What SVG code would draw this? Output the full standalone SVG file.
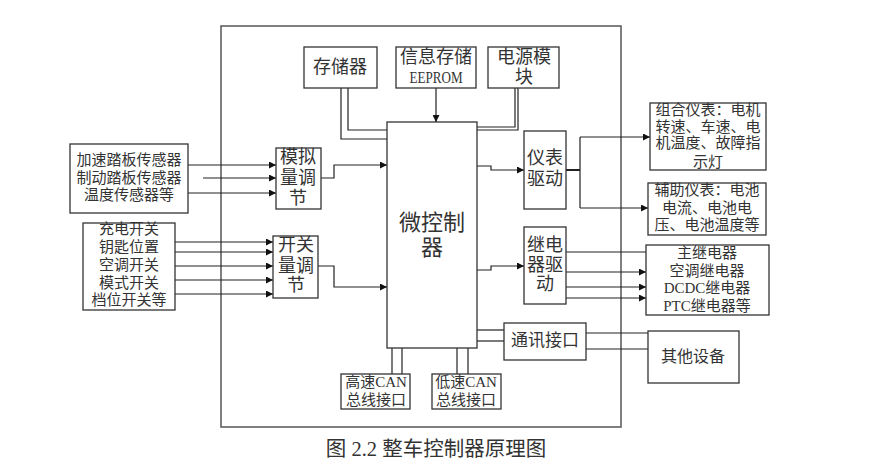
<svg xmlns="http://www.w3.org/2000/svg" width="894" height="470" viewBox="0 0 894 470">
<defs>
<marker id="ah" viewBox="0 0 10 10" refX="10" refY="5" markerWidth="9" markerHeight="7" markerUnits="userSpaceOnUse" orient="auto">
<path d="M0,0 L10,5 L0,10 Z" fill="#111"/>
</marker>
<style>
.box{fill:#fff;stroke:#333;stroke-width:1.3}
.frame{fill:none;stroke:#555;stroke-width:1.5}
.ln{fill:none;stroke:#222;stroke-width:1.2}
.ar{fill:none;stroke:#222;stroke-width:1.2;marker-end:url(#ah)}
text{font-family:"Liberation Serif","Noto Sans CJK SC",serif;fill:#333;text-anchor:middle;dominant-baseline:central}
.t15{font-size:15px}
.t17{font-size:17px}
.t18{font-size:18px}
</style>
</defs>
<rect width="894" height="470" fill="#fff"/>
<rect class="frame" x="221" y="26" width="400" height="401"/>

<g id="connectors">
<polyline class="ln" points="341,88 341,139 387,139"/>
<polyline class="ln" points="348,88 348,130 387,130"/>
<line class="ar" x1="436" y1="88" x2="436" y2="122"/>
<polyline class="ln" points="515,88 515,127 477,127"/>
<polyline class="ln" points="518,88 518,130 477,130"/>
<line class="ar" x1="188" y1="165" x2="276" y2="165"/>
<line class="ar" x1="203" y1="178" x2="276" y2="178"/>
<line class="ar" x1="188" y1="193" x2="276" y2="193"/>
<line class="ar" x1="175" y1="242" x2="273" y2="242"/>
<line class="ar" x1="175" y1="252" x2="273" y2="252"/>
<line class="ar" x1="175" y1="266" x2="273" y2="266"/>
<line class="ar" x1="175" y1="280" x2="273" y2="280"/>
<line class="ar" x1="175" y1="294" x2="273" y2="294"/>
<polyline class="ar" points="321,178 334,178 334,165 387,165"/>
<polyline class="ar" points="318,266 334,266 334,287 387,287"/>
<polyline class="ar" points="477,166 491,166 491,170 524,170"/>
<polyline class="ar" points="477,270 491,270 491,266 524,266"/>
<line class="ln" x1="566" y1="170" x2="580" y2="170" style="stroke-width:2"/>
<line class="ln" x1="580" y1="137" x2="580" y2="208"/>
<line class="ar" x1="580" y1="137" x2="650" y2="137"/>
<line class="ar" x1="580" y1="208" x2="648" y2="208"/>
<line class="ln" x1="566" y1="252" x2="646" y2="252"/>
<line class="ar" x1="566" y1="272" x2="646" y2="272"/>
<line class="ar" x1="566" y1="287" x2="646" y2="287"/>
<line class="ar" x1="566" y1="298" x2="646" y2="298"/>
<line class="ln" x1="477" y1="330" x2="504" y2="330"/>
<line class="ln" x1="477" y1="341" x2="504" y2="341"/>
<line class="ln" x1="586" y1="333" x2="648" y2="333"/>
<line class="ln" x1="586" y1="349" x2="648" y2="349"/>
<line class="ln" x1="392" y1="348" x2="392" y2="374"/>
<line class="ln" x1="402" y1="348" x2="402" y2="374"/>
<line class="ln" x1="457" y1="348" x2="457" y2="374"/>
<line class="ln" x1="468" y1="348" x2="468" y2="374"/>
</g>

<g id="storage"><rect class="box" x="304" y="47" width="73" height="41"/><text class="t18" x="340" y="67">存储器</text></g>
<g id="eeprom"><rect class="box" x="396" y="47" width="80" height="41"/><text class="t18" x="436" y="57">信息存储</text><text x="436" y="77" font-size="16" textLength="53" lengthAdjust="spacingAndGlyphs">EEPROM</text></g>
<g id="power"><rect class="box" x="488" y="47" width="71" height="41"/><text class="t18" x="524" y="57">电源模</text><text class="t18" x="524" y="77">块</text></g>
<g id="mcu"><rect class="box" x="387" y="122" width="90" height="226"/><text x="432" y="222" font-size="22">微控制</text><text x="432" y="247" font-size="22">器</text></g>
<g id="sensors"><rect class="box" x="70" y="144" width="118" height="69"/><text class="t15" x="129" y="160">加速踏板传感器</text><text class="t15" x="129" y="178">制动踏板传感器</text><text class="t15" x="129" y="195">温度传感器等</text></g>
<g id="switches"><rect class="box" x="83" y="223" width="92" height="87"/><text class="t15" x="129" y="229">充电开关</text><text class="t15" x="129" y="247">钥匙位置</text><text class="t15" x="129" y="265">空调开关</text><text class="t15" x="129" y="283">模式开关</text><text class="t15" x="129" y="300">档位开关等</text></g>
<g id="analog"><rect class="box" x="276" y="148" width="45" height="61"/><text class="t18" x="298" y="157">模拟</text><text class="t18" x="298" y="178">量调</text><text class="t18" x="298" y="198">节</text></g>
<g id="switchcond"><rect class="box" x="273" y="236" width="45" height="62"/><text class="t18" x="296" y="245">开关</text><text class="t18" x="296" y="266">量调</text><text class="t18" x="296" y="285">节</text></g>
<g id="meterdrv"><rect class="box" x="524" y="131" width="42" height="78"/><text class="t18" x="545" y="158">仪表</text><text class="t18" x="545" y="179">驱动</text></g>
<g id="relaydrv"><rect class="box" x="524" y="227" width="42" height="77"/><text class="t18" x="545" y="245">继电</text><text class="t18" x="545" y="265">器驱</text><text class="t18" x="545" y="284">动</text></g>
<g id="combo"><rect class="box" x="650" y="103" width="116" height="67"/><text class="t15" x="708" y="110">组合仪表：电机</text><text class="t15" x="708" y="127">转速、车速、电</text><text class="t15" x="708" y="143">机温度、故障指</text><text class="t15" x="708" y="162">示灯</text></g>
<g id="aux"><rect class="box" x="648" y="183" width="118" height="52"/><text class="t15" x="707" y="190">辅助仪表：电池</text><text class="t15" x="707" y="208">电流、电池电</text><text class="t15" x="707" y="225">压、电池温度等</text></g>
<g id="relays"><rect class="box" x="646" y="245" width="123" height="70"/><text class="t15" x="707" y="253">主继电器</text><text class="t15" x="707" y="271">空调继电器</text><text class="t15" x="707" y="288">DCDC继电器</text><text class="t15" x="707" y="306">PTC继电器等</text></g>
<g id="comm"><rect class="box" x="504" y="323" width="82" height="37"/><text class="t17" x="545" y="340">通讯接口</text></g>
<g id="other"><rect class="box" x="648" y="331" width="91" height="52"/><text x="693" y="356" font-size="16">其他设备</text></g>
<g id="hcan"><rect class="box" x="341" y="374" width="69" height="35"/><text class="t15" x="376" y="382">高速CAN</text><text class="t15" x="376" y="400">总线接口</text></g>
<g id="lcan"><rect class="box" x="432" y="374" width="69" height="35"/><text class="t15" x="466" y="382">低速CAN</text><text class="t15" x="466" y="400">总线接口</text></g>

<text x="436" y="449" font-size="20.5" fill="#222">图 2.2 整车控制器原理图</text>
</svg>
